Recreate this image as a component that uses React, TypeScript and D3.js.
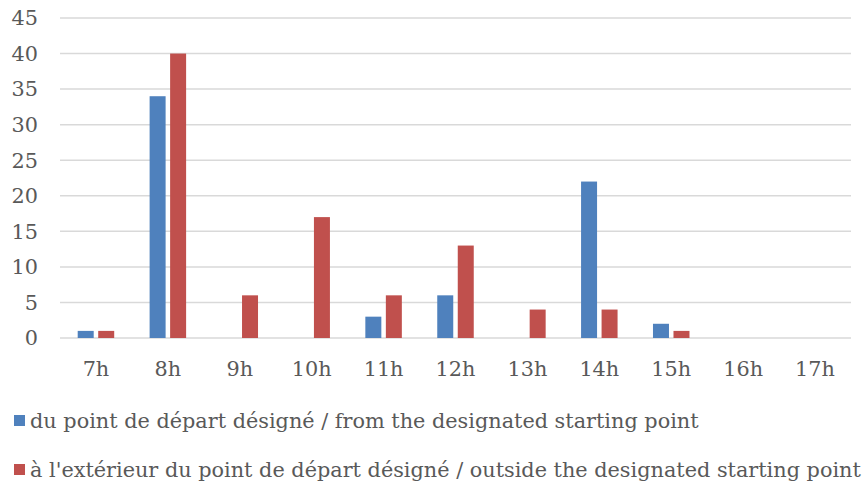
import * as d3 from "d3";

const categories = ["7h", "8h", "9h", "10h", "11h", "12h", "13h", "14h", "15h", "16h", "17h"];
const fromStart = [1, 34, 0, 0, 3, 6, 0, 22, 2, 0, 0];
const outsideStart = [1, 40, 6, 17, 6, 13, 4, 4, 1, 0, 0];
const seriesNames = [
  "du point de départ désigné / from the designated starting point",
  "à l'extérieur du point de départ désigné / outside the designated starting point",
];
const yTicks = [0, 5, 10, 15, 20, 25, 30, 35, 40, 45];

const colors = ["#4F81BD", "#C0504D"];
const font = "'DejaVu Serif', serif";
const fs = 20.8;

export default function App() {
  const width = 867;
  const height = 489;
  const left = 60;
  const right = 851;
  const top = 18;
  const bottom = 338;

  const x = d3.scaleBand<string>().domain(categories).range([left, right]);
  const groupPad = (x.bandwidth() - 36.5) / 2;
  const inner = d3
    .scaleBand<number>()
    .domain([0, 1])
    .range([groupPad, x.bandwidth() - groupPad])
    .paddingInner(0.22);
  const y = d3.scaleLinear().domain([0, 45]).range([bottom, top]);
  const series = [fromStart, outsideStart];

  return (
    <svg width={width} height={height} style={{ position: "absolute", left: 0, top: 0 }}>
      <rect width={width} height={height} fill="#fff" />
      {yTicks.map((t) => (
        <g key={t}>
          <line x1={left} x2={right} y1={y(t)} y2={y(t)} stroke="#D9D9D9" strokeWidth={1.5} />
          <text x={38} y={y(t)} dy="0.35em" textAnchor="end" fontFamily={font} fontSize={fs} fill="#595959">
            {t}
          </text>
        </g>
      ))}
      {series.map((vals, si) =>
        vals.map((v, i) =>
          v > 0 ? (
            <rect
              key={`${si}-${i}`}
              x={(x(categories[i]) ?? 0) + (inner(si) ?? 0)}
              y={y(v)}
              width={inner.bandwidth()}
              height={y(0) - y(v)}
              fill={colors[si]}
            />
          ) : null
        )
      )}
      {categories.map((c) => (
        <text
          key={c}
          x={(x(c) ?? 0) + x.bandwidth() / 2}
          y={376}
          textAnchor="middle"
          fontFamily={font}
          fontSize={fs}
          fill="#595959"
        >
          {c}
        </text>
      ))}
      {seriesNames.map((name, si) => (
        <g key={name} transform={`translate(14, ${421 + si * 49})`}>
          <rect x={0} y={-6} width={11} height={11} fill={colors[si]} />
          <text x={16} y={0} dy="0.35em" fontFamily={font} fontSize={fs} fill="#595959">
            {name}
          </text>
        </g>
      ))}
    </svg>
  );
}
